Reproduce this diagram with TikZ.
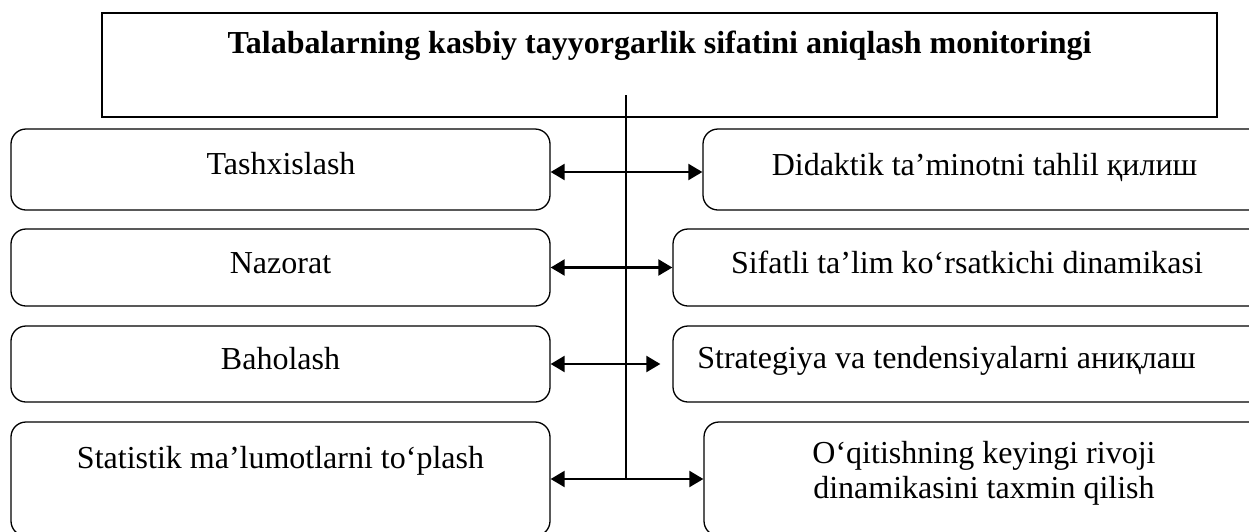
\documentclass[tikz,border=0pt]{standalone}
\usepackage{fontspec}
\setmainfont{Liberation Serif}
\usepackage{tikz}
\usetikzlibrary{shapes,arrows,arrows.meta,calc}
\tikzstyle{line} = [draw, line width=1.1pt, {Triangle[length=7pt,width=8pt]}-{Triangle[length=7pt,width=8pt]}]
\tikzstyle{trunk} = [draw, line width=0.6pt]
\tikzstyle{block} = [draw, rectangle, line width=0.65pt, inner sep=0pt]
\tikzstyle{cloud} = [draw, rectangle, rounded corners=7.5pt, line width=0.65pt, inner sep=0pt]
\tikzstyle{txt} = [anchor=base, inner sep=0pt, align=center]

\begin{document}
\begin{tikzpicture}[x=0.5pt, y=-0.5pt, font=\fontsize{16pt}{17.5pt}\selectfont]
        \useasboundingbox (0,0) rectangle (1249,531);
        \clip (0,0) rectangle (1249,531);
        % boxes
        \node[block, minimum width=557.5pt, minimum height=52pt] (monitor) at (659.5,65) {};
        \node[cloud, minimum width=269.5pt, minimum height=40.5pt] (tash) at (280.5,169.5) {};
        \node[cloud, minimum width=269.5pt, minimum height=38.5pt] (naz) at (280.5,267.5) {};
        \node[cloud, minimum width=269.5pt, minimum height=38pt] (bah) at (280.5,364) {};
        \node[cloud, minimum width=269.5pt, minimum height=57pt] (stat) at (280.5,479) {};
        \node[cloud, minimum width=286pt, minimum height=40.5pt] (didak) at (989,169.5) {};
        \node[cloud, minimum width=301pt, minimum height=38.5pt] (sif) at (974,267.5) {};
        \node[cloud, minimum width=301pt, minimum height=38pt] (strat) at (974,364) {};
        \node[cloud, minimum width=285.5pt, minimum height=57pt] (oqit) at (989.5,479) {};
        % texts
        \node[txt, font=\fontsize{16pt}{17.5pt}\selectfont\bfseries] (monitorT) at (659.5,53) {Talabalarning kasbiy tayyorgarlik sifatini aniqlash monitoringi};
        \node[txt] (tashT) at (281,174) {Tashxislash};
        \node[txt] (nazT) at (280.5,273) {Nazorat};
        \node[txt] (bahT) at (280.5,369) {Baholash};
        \node[txt] (statT) at (280.5,468) {Statistik ma’lumotlarni to‘plash};
        \node[txt] (didakT) at (984.5,175) {Didaktik ta’minotni tahlil қилиш};
        \node[txt] (sifT) at (967,273) {Sifatli ta’lim ko‘rsatkichi dinamikasi};
        \node[txt] (stratT) at (946.5,368) {Strategiya va tendensiyalarni аниқлаш};
        \node[txt] (oqitT) at (984,498.5) {O‘qitishning keyingi rivoji\\dinamikasini taxmin qilish};
        % connectors
        \coordinate (top) at (626,95);
        \path[trunk] (top) -- (top |- stat.east);
        \path[line] ([yshift=-1.25pt]tash.east) -- ([yshift=-1.25pt]didak.west);
        \path[line] (naz.east) -- (sif.west);
        \path[line, shorten >=6pt] (bah.east) -- (strat.west);
        \path[line] (stat.east) -- (oqit.west);
    \end{tikzpicture}
\end{document}
